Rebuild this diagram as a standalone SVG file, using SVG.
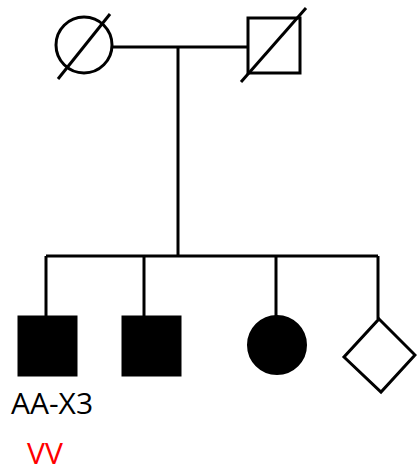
<svg xmlns="http://www.w3.org/2000/svg" width="417" height="474" viewBox="0 0 417 474">
<style>
.ln{stroke:#000;stroke-width:3;fill:none}
.open{stroke:#000;stroke-width:3;fill:#fff}
.aff{stroke:#000;stroke-width:3;fill:#000}
.lbl{font-family:"Open Sans","Noto Sans",sans-serif;font-size:30px}
</style>
<rect width="417" height="474" fill="#fff"/>
<g id="connectors">
<line class="ln" x1="111" y1="47" x2="248" y2="47"/>
<line class="ln" x1="178" y1="47" x2="178" y2="256"/>
<line class="ln" x1="46" y1="256" x2="378" y2="256"/>
<line class="ln" x1="46" y1="256" x2="46" y2="316"/>
<line class="ln" x1="144" y1="256" x2="144" y2="316"/>
<line class="ln" x1="276" y1="256" x2="276" y2="316"/>
<line class="ln" x1="378" y1="256" x2="378" y2="319"/>
</g>
<g id="mother">
<circle class="open" cx="84" cy="45" r="28"/>
<line class="ln" x1="58" y1="79" x2="110" y2="14"/>
</g>
<g id="father">
<rect class="open" x="248" y="18" width="52" height="55"/>
<line class="ln" x1="241" y1="82" x2="306" y2="8"/>
</g>
<g id="child1">
<rect class="aff" x="19" y="317" width="57" height="58"/>
<text class="lbl" x="11" y="414" fill="#000">AA-X3</text>
<text class="lbl" x="27" y="464" fill="#ff0000">VV</text>
</g>
<g id="child2">
<rect class="aff" x="123" y="317" width="57" height="58"/>
</g>
<g id="child3">
<circle class="aff" cx="277" cy="345" r="28.5"/>
</g>
<g id="child4">
<polygon class="open" points="379,319 415,355 381,392 344,357"/>
</g>
</svg>
